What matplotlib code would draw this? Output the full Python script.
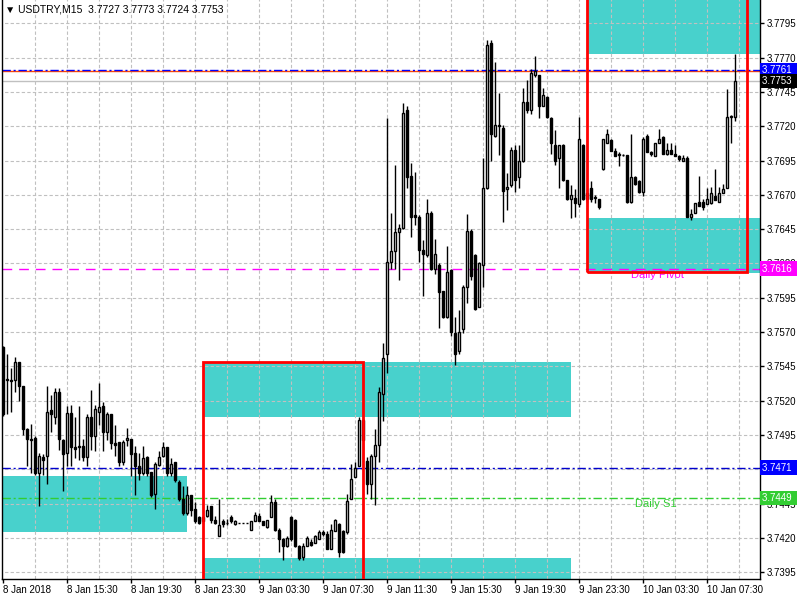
import numpy as np
import matplotlib.pyplot as plt
from matplotlib.patches import Rectangle

# USDTRY M15 candles (oldest first)
opens = [3.7559, 3.7535, 3.7535, 3.7535, 3.7548, 3.7531, 3.7499, 3.7492, 3.7493, 3.7467,
         3.7479, 3.7480, 3.7513, 3.7508, 3.7526, 3.7491, 3.7482, 3.7511, 3.7486, 3.7486,
         3.7487, 3.7479, 3.7508, 3.7494, 3.7512, 3.7516, 3.7497, 3.7510, 3.7489, 3.7490,
         3.7475, 3.7491, 3.7492, 3.7482, 3.7472, 3.7467, 3.7479, 3.7468, 3.7452, 3.7473,
         3.7480, 3.7486, 3.7467, 3.7475, 3.7461, 3.7448, 3.7438, 3.7451, 3.7441, 3.7435,
         3.7432, 3.7436, 3.7443, 3.7433, 3.7421, 3.7432, 3.7431, 3.7435, 3.7430, 3.7431,
         3.7431, 3.7431, 3.7426, 3.7432, 3.7436, 3.7432, 3.7428, 3.7435, 3.7446, 3.7426,
         3.7419, 3.7414, 3.7435, 3.7433, 3.7414, 3.7406, 3.7414, 3.7417, 3.7416, 3.7419,
         3.7424, 3.7423, 3.7412, 3.7425, 3.7430, 3.7425, 3.7424, 3.7448, 3.7464, 3.7472,
         3.7506, 3.7476, 3.7459, 3.7480, 3.7488, 3.7525, 3.7554, 3.7621, 3.7629, 3.7643,
         3.7646, 3.7732, 3.7684, 3.7655, 3.7654, 3.7630, 3.7626, 3.7657, 3.7616, 3.7619,
         3.7600, 3.7581, 3.7615, 3.7569, 3.7556, 3.7572, 3.7603, 3.7644, 3.7626, 3.7588,
         3.7619, 3.7675, 3.7781, 3.7713, 3.7720, 3.7719, 3.7674, 3.7677, 3.7703, 3.7683,
         3.7695, 3.7738, 3.7732, 3.7757, 3.7757, 3.7735, 3.7741, 3.7726, 3.7706, 3.7697,
         3.7706, 3.7681, 3.7667, 3.7668, 3.7663, 3.7706, 3.7667, 3.7675, 3.7668, 3.7667,
         3.7689, 3.7708, 3.7710, 3.7702, 3.7700, 3.7699, 3.7699, 3.7665, 3.7683, 3.7680,
         3.7672, 3.7713, 3.7701, 3.7698, 3.7708, 3.7712, 3.7700, 3.7703, 3.7700, 3.7698,
         3.7695, 3.7697, 3.7654, 3.7657, 3.7665, 3.7665, 3.7663, 3.7664, 3.7669, 3.7665,
         3.7671, 3.7675, 3.7727, 3.7727]
highs = [3.7560, 3.7554, 3.7544, 3.7552, 3.7548, 3.7531, 3.7500, 3.7503, 3.7494, 3.7482,
         3.7481, 3.7531, 3.7524, 3.7529, 3.7529, 3.7492, 3.7516, 3.7517, 3.7508, 3.7516,
         3.7492, 3.7510, 3.7528, 3.7517, 3.7533, 3.7519, 3.7512, 3.7510, 3.7502, 3.7490,
         3.7491, 3.7500, 3.7492, 3.7487, 3.7482, 3.7487, 3.7480, 3.7468, 3.7475, 3.7483,
         3.7490, 3.7486, 3.7478, 3.7475, 3.7462, 3.7458, 3.7458, 3.7451, 3.7446, 3.7436,
         3.7436, 3.7444, 3.7443, 3.7436, 3.7448, 3.7434, 3.7434, 3.7437, 3.7433, 3.7431,
         3.7431, 3.7431, 3.7432, 3.7439, 3.7438, 3.7432, 3.7433, 3.7451, 3.7448, 3.7427,
         3.7420, 3.7421, 3.7436, 3.7434, 3.7415, 3.7416, 3.7421, 3.7419, 3.7422, 3.7426,
         3.7426, 3.7425, 3.7430, 3.7434, 3.7431, 3.7426, 3.7452, 3.7474, 3.7475, 3.7508,
         3.7507, 3.7479, 3.7481, 3.7499, 3.7530, 3.7562, 3.7726, 3.7657, 3.7692, 3.7649,
         3.7737, 3.7735, 3.7693, 3.7687, 3.7655, 3.7637, 3.7667, 3.7658, 3.7638, 3.7620,
         3.7600, 3.7633, 3.7616, 3.7581, 3.7586, 3.7604, 3.7656, 3.7645, 3.7627, 3.7621,
         3.7697, 3.7783, 3.7783, 3.7767, 3.7744, 3.7721, 3.7686, 3.7705, 3.7706, 3.7706,
         3.7748, 3.7754, 3.7762, 3.7771, 3.7757, 3.7748, 3.7742, 3.7727, 3.7717, 3.7706,
         3.7707, 3.7681, 3.7677, 3.7674, 3.7727, 3.7707, 3.7674, 3.7680, 3.7670, 3.7667,
         3.7711, 3.7718, 3.7711, 3.7704, 3.7701, 3.7700, 3.7699, 3.7714, 3.7684, 3.7681,
         3.7712, 3.7714, 3.7702, 3.7708, 3.7718, 3.7713, 3.7708, 3.7708, 3.7706, 3.7699,
         3.7699, 3.7698, 3.7660, 3.7664, 3.7684, 3.7667, 3.7675, 3.7676, 3.7689, 3.7676,
         3.7678, 3.7747, 3.7728, 3.7773]
lows = [3.7509, 3.7510, 3.7512, 3.7526, 3.7520, 3.7495, 3.7472, 3.7467, 3.7466, 3.7443,
        3.7466, 3.7459, 3.7497, 3.7503, 3.7484, 3.7454, 3.7472, 3.7472, 3.7478, 3.7477,
        3.7476, 3.7472, 3.7484, 3.7483, 3.7502, 3.7483, 3.7491, 3.7485, 3.7480, 3.7472,
        3.7473, 3.7487, 3.7465, 3.7451, 3.7462, 3.7466, 3.7465, 3.7450, 3.7441, 3.7472,
        3.7479, 3.7465, 3.7465, 3.7461, 3.7447, 3.7437, 3.7437, 3.7436, 3.7431, 3.7430,
        3.7430, 3.7435, 3.7431, 3.7430, 3.7421, 3.7428, 3.7429, 3.7431, 3.7429, 3.7431,
        3.7431, 3.7431, 3.7426, 3.7432, 3.7432, 3.7429, 3.7427, 3.7435, 3.7425, 3.7410,
        3.7404, 3.7413, 3.7418, 3.7413, 3.7404, 3.7404, 3.7414, 3.7414, 3.7416, 3.7419,
        3.7421, 3.7412, 3.7412, 3.7425, 3.7406, 3.7409, 3.7423, 3.7448, 3.7464, 3.7472,
        3.7475, 3.7452, 3.7448, 3.7444, 3.7475, 3.7505, 3.7540, 3.7616, 3.7616, 3.7608,
        3.7645, 3.7675, 3.7639, 3.7648, 3.7621, 3.7596, 3.7625, 3.7615, 3.7612, 3.7573,
        3.7580, 3.7580, 3.7567, 3.7546, 3.7554, 3.7569, 3.7591, 3.7608, 3.7586, 3.7588,
        3.7603, 3.7674, 3.7695, 3.7712, 3.7699, 3.7650, 3.7659, 3.7676, 3.7672, 3.7675,
        3.7694, 3.7730, 3.7729, 3.7756, 3.7726, 3.7735, 3.7726, 3.7700, 3.7692, 3.7675,
        3.7680, 3.7666, 3.7653, 3.7654, 3.7661, 3.7666, 3.7664, 3.7665, 3.7664, 3.7660,
        3.7688, 3.7708, 3.7702, 3.7698, 3.7691, 3.7698, 3.7664, 3.7664, 3.7677, 3.7671,
        3.7669, 3.7701, 3.7698, 3.7698, 3.7708, 3.7700, 3.7699, 3.7700, 3.7698, 3.7695,
        3.7695, 3.7654, 3.7652, 3.7657, 3.7662, 3.7659, 3.7663, 3.7663, 3.7666, 3.7665,
        3.7671, 3.7675, 3.7708, 3.7724]
closes = [3.7510, 3.7536, 3.7534, 3.7548, 3.7531, 3.7499, 3.7492, 3.7491, 3.7467, 3.7480,
          3.7477, 3.7512, 3.7510, 3.7526, 3.7492, 3.7481, 3.7511, 3.7486, 3.7485, 3.7487,
          3.7479, 3.7508, 3.7494, 3.7514, 3.7515, 3.7497, 3.7510, 3.7489, 3.7488, 3.7475,
          3.7490, 3.7493, 3.7481, 3.7472, 3.7467, 3.7478, 3.7467, 3.7451, 3.7474, 3.7479,
          3.7486, 3.7467, 3.7474, 3.7462, 3.7448, 3.7438, 3.7451, 3.7440, 3.7432, 3.7431,
          3.7435, 3.7440, 3.7433, 3.7431, 3.7429, 3.7430, 3.7431, 3.7432, 3.7432, 3.7431,
          3.7431, 3.7431, 3.7432, 3.7437, 3.7432, 3.7429, 3.7433, 3.7446, 3.7426, 3.7419,
          3.7414, 3.7420, 3.7419, 3.7414, 3.7405, 3.7414, 3.7420, 3.7415, 3.7421, 3.7424,
          3.7423, 3.7412, 3.7426, 3.7433, 3.7410, 3.7410, 3.7447, 3.7463, 3.7471, 3.7506,
          3.7491, 3.7459, 3.7480, 3.7488, 3.7526, 3.7551, 3.7621, 3.7629, 3.7643, 3.7646,
          3.7730, 3.7683, 3.7654, 3.7654, 3.7630, 3.7627, 3.7657, 3.7616, 3.7627, 3.7599,
          3.7581, 3.7614, 3.7570, 3.7554, 3.7570, 3.7603, 3.7644, 3.7611, 3.7587, 3.7620,
          3.7675, 3.7779, 3.7714, 3.7721, 3.7721, 3.7673, 3.7676, 3.7703, 3.7681, 3.7695,
          3.7738, 3.7732, 3.7759, 3.7760, 3.7735, 3.7743, 3.7727, 3.7708, 3.7695, 3.7706,
          3.7681, 3.7667, 3.7670, 3.7664, 3.7711, 3.7667, 3.7671, 3.7667, 3.7668, 3.7661,
          3.7711, 3.7714, 3.7702, 3.7698, 3.7699, 3.7699, 3.7665, 3.7683, 3.7678, 3.7672,
          3.7711, 3.7701, 3.7700, 3.7708, 3.7711, 3.7700, 3.7703, 3.7700, 3.7698, 3.7696,
          3.7697, 3.7654, 3.7656, 3.7664, 3.7662, 3.7661, 3.7667, 3.7671, 3.7666, 3.7671,
          3.7674, 3.7727, 3.7727, 3.7753]

time_labels = ["8 Jan 2018", "8 Jan 15:30", "8 Jan 19:30", "8 Jan 23:30", "9 Jan 03:30",
               "9 Jan 07:30", "9 Jan 11:30", "9 Jan 15:30", "9 Jan 19:30", "9 Jan 23:30",
               "10 Jan 03:30", "10 Jan 07:30"]
price_ticks = [3.7395, 3.7420, 3.7445, 3.7470, 3.7495, 3.7520, 3.7545, 3.7570, 3.7595,
               3.7620, 3.7645, 3.7670, 3.7695, 3.7720, 3.7745, 3.7770, 3.7795]

# zones: (first bar, last bar, low, high)
zones = [(-1, 46, 3.7424, 3.7465),
         (50, 142, 3.7508, 3.7548),
         (50, 142, 3.7360, 3.7405),
         (146, 195, 3.7613, 3.7653),
         (146, 195, 3.7773, 3.7840)]
# red day boxes: (first bar, last bar, low, high)
day_boxes = [(50, 90, 3.7370, 3.7548),
             (146, 186, 3.7614, 3.7840)]

# horizontal levels: (price, colour, style, label colour)
levels = [(3.7760, '#FF4500', '-', '#FF4500'),
          (3.7761, '#0000FF', (0, (6, 2, 1.5, 2)), '#0000FF'),
          (3.7616, '#FF00FF', (0, (7, 5)), '#FF00FF'),
          (3.7471, '#0000CD', (0, (6, 2, 1.5, 2)), '#0000FF'),
          (3.7449, '#32CD32', (0, (6, 2, 1.5, 2)), '#32CD32')]
bid = 3.7753

plt.rcParams['font.family'] = ['Liberation Sans', 'DejaVu Sans']

fig = plt.figure(figsize=(8, 6), dpi=100)
ax = fig.add_axes([2 / 800, 21 / 600, 758 / 800, 579 / 600])
n = len(opens)
x = np.arange(n)
ax.set_xlim(-0.25, 189.25)
ax.set_ylim(3.7390, 3.7812)

for b0, b1, lo, hi in zones:
    ax.add_patch(Rectangle((b0, lo), b1 - b0, hi - lo, fc='#48D1CC', ec='none', zorder=1))

# grid
grid_kw = dict(color='#C0C0C0', lw=0.8, linestyle=(0, (3, 2)), zorder=1.5)
ax.hlines(price_ticks, -1, 200, **grid_kw)
ax.vlines(np.arange(8, 190, 8), 3.70, 3.80, **grid_kw)

# levels
for price, col, ls, lcol in levels:
    ax.axhline(price, color=col, lw=1, linestyle=ls, zorder=2)
ax.axhline(bid, color='#C0C0C0', lw=1, zorder=2)
ax.text(157, 3.7615, 'Daily Pivot', color='#FF00FF', fontsize=8, va='top', zorder=5)
ax.text(158, 3.7448, 'Daily S1', color='#32CD32', fontsize=8, va='top', zorder=5)

# candles
o = np.array(opens)
c = np.array(closes)
ax.vlines(x, lows, highs, color='black', lw=1, zorder=3)
up = c >= o
body_lo = np.minimum(o, c)
body_h = np.maximum(np.abs(c - o), 0.00001)
ax.bar(x[up], body_h[up], 0.5, bottom=body_lo[up], color='white', edgecolor='black', lw=1, zorder=4)
ax.bar(x[~up], body_h[~up], 0.5, bottom=body_lo[~up], color='black', edgecolor='black', lw=1, zorder=4)

for b0, b1, lo, hi in day_boxes:
    ax.add_patch(Rectangle((b0, lo), b1 - b0, hi - lo, fc='none', ec='#FF0000', lw=2, zorder=6))

# axes styling
ax.spines['top'].set_visible(False)
for side in ['left', 'bottom', 'right']:
    ax.spines[side].set_color('black')
    ax.spines[side].set_linewidth(1)
ax.yaxis.tick_right()
ax.set_yticks(price_ticks)
ax.set_yticklabels(['%.4f' % p for p in price_ticks])
ax.set_xticks(np.arange(0, 184, 16))
ax.set_xticklabels(time_labels)
plt.setp(ax.get_xticklabels(), ha='left')
ax.tick_params(axis='y', direction='out', length=3, width=1, pad=2, labelsize=7)
ax.tick_params(axis='x', direction='out', length=3, width=1, pad=1.5, labelsize=7)

# price tags on the right
ytr = ax.get_yaxis_transform()
for price, col, ls, lcol in levels:
    ax.text(1.003, price, '%.4f ' % price, transform=ytr, color='white', fontsize=7, va='center',
            ha='left', clip_on=False, zorder=10,
            bbox=dict(boxstyle='square,pad=0.25', fc=lcol, ec='none'))
ax.text(1.003, bid, '%.4f ' % bid, transform=ytr, color='white', fontsize=7, va='center',
        ha='left', clip_on=False, zorder=10, bbox=dict(boxstyle='square,pad=0.25', fc='black', ec='none'))

fig.text(5 / 800, 1 - 10 / 600, '\u25bc USDTRY,M15  %.4f %.4f %.4f %.4f' % (opens[-1], highs[-1], lows[-1], closes[-1]),
         fontsize=7.5, va='center', ha='left')

fig.savefig('out.png', dpi=100)
